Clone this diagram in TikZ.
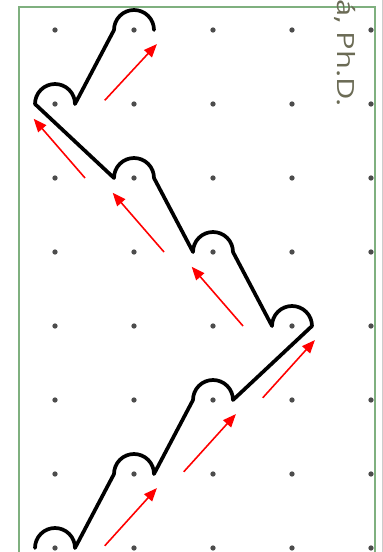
\documentclass[tikz,border=0pt]{standalone}
\usepackage{fontspec}
\setsansfont{Open Sans}
\usetikzlibrary{arrows.meta}

\definecolor{framegreen}{HTML}{7FB07F}
\definecolor{nametext}{HTML}{6B6B55}

\begin{document}
\begin{tikzpicture}[
        x=1.58cm, y=1.48cm,
        dot/.style={fill=black!70},
        curve/.style={draw=black, line width=2.1pt, line join=round, line cap=round},
        shiftarrow/.style={draw=red, line width=0.9pt, -{Triangle[length=7.5pt,width=6pt]}},
        frame/.style={draw=framegreen, line width=0.9pt}
      ]
      \def\r{0.4cm}
      \useasboundingbox (-1.1cm,-0.08cm) rectangle (6.56cm,10.96cm);

      % frame and name
      \draw[frame] (-0.456,-0.5) rectangle (4.05,7.31);
      \draw[black!20, line width=0.5pt] (4.14,-0.5) -- (4.14,7.6);
      \node[anchor=base west, rotate=-90, inner sep=0, text=nametext,
            font=\sffamily\fontsize{13.5}{16}\selectfont] (name) at (3.58,7.42)
            {\scalebox{1.3}[1]{á, Ph.D.}};

      % dot lattice
      \foreach \i in {0,...,4}
        \foreach \j in {0,...,7}
          \fill[dot] (\i,\j) circle (1.5pt);

      % motif chain
      \draw[curve] ([xshift=-\r]0,0) arc[start angle=180, end angle=0, radius=\r]
        -- ([xshift=-\r]1,1) arc[start angle=180, end angle=0, radius=\r]
        -- ([xshift=-\r]2,2) arc[start angle=180, end angle=0, radius=\r]
        -- ([xshift=\r]3,3) arc[start angle=0, end angle=180, radius=\r]
        -- ([xshift=\r]2,4) arc[start angle=0, end angle=180, radius=\r]
        -- ([xshift=\r]1,5) arc[start angle=0, end angle=180, radius=\r]
        -- ([xshift=-\r]0,6) arc[start angle=180, end angle=0, radius=\r]
        -- ([xshift=-\r]1,7) arc[start angle=180, end angle=0, radius=\r];

      % translation arrows
      \foreach \k in {0,1,2} {
        \draw[shiftarrow] ({\k+0.63},{\k+0.03}) -- ++(0.66,0.78);
        \draw[shiftarrow] ({2.38-\k},{3+\k}) -- ++(-0.65,0.8);
      }
      \draw[shiftarrow] (0.63,6.05) -- ++(0.66,0.76);

    \end{tikzpicture}
\end{document}
